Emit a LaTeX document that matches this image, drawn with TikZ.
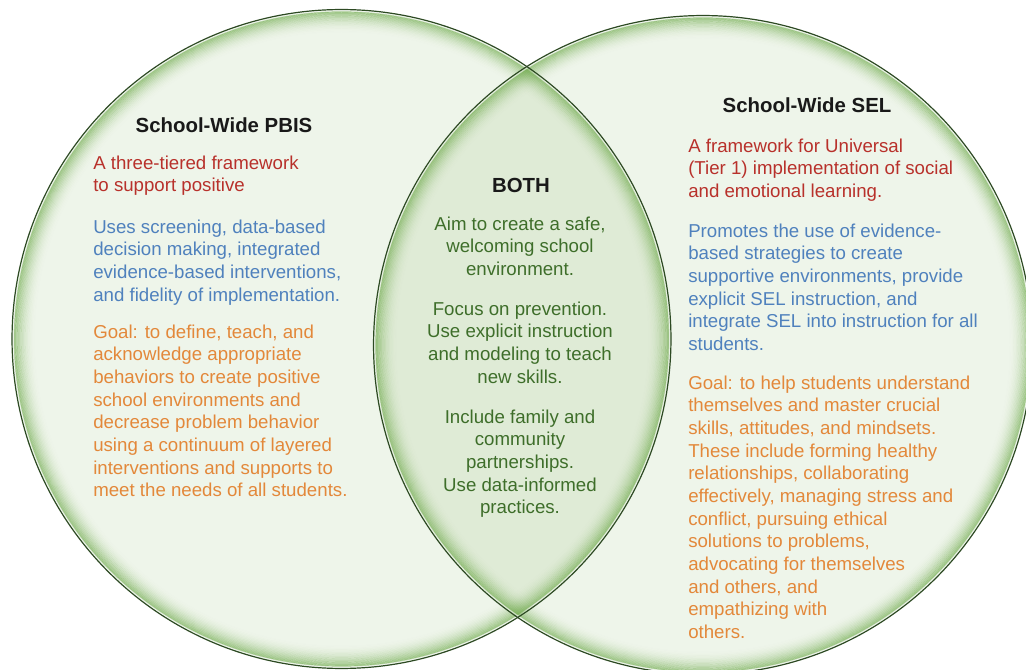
\documentclass[tikz,border=0pt]{standalone}
\usepackage{fontspec}
\setmainfont{Liberation Sans}
\definecolor{innerc}{HTML}{EEF5EA}
\definecolor{lensc}{HTML}{DFEBD6}
\definecolor{glowc}{HTML}{6FAA4C}
\definecolor{rimc}{HTML}{2D4A23}
\definecolor{tred}{HTML}{B8312B}
\definecolor{tblue}{HTML}{4F81BD}
\definecolor{torange}{HTML}{E3883A}
\definecolor{tgreen}{HTML}{3E6E2A}
\newcommand\firststrut{\rule{0pt}{12pt}}
\begin{document}
\begin{tikzpicture}[x=0.75pt,y=-0.75pt,
  body/.style={inner sep=0pt, font=\fontsize{14pt}{17pt}\selectfont},
  lblock/.style={body, anchor=north west, align=left},
  cblock/.style={body, anchor=north, align=center, text=tgreen},
  ttl/.style={inner sep=0pt, anchor=north, font=\fontsize{15.3pt}{18pt}\selectfont\bfseries, text=black!90},
  ]
\useasboundingbox (0,0) rectangle (1026,670);
\coordinate (L) at (341.5,339);
\coordinate (R) at (703,345);
\def\rad{247.1pt}
\fill[innerc] (L) circle[radius=\rad];
\fill[innerc] (R) circle[radius=\rad];
\begin{scope}
  \clip (L) circle[radius=\rad];
  \fill[lensc] (R) circle[radius=\rad];
\end{scope}
\foreach \c in {L,R}{
  \foreach \k [evaluate=\k as \op using {0.62*(1-\k/16)^2}, evaluate=\k as \rr using {245.4-\k*1.0}] in {0,...,15}{
    \draw[glowc, line width=1.05pt, draw opacity=\op] (\c) circle[radius=\rr pt];
  }
  \draw[white, line width=1.1pt, draw opacity=0.5] (\c) circle[radius=246.1pt];
}
\foreach \c in {L,R}{
  \draw[rimc, line width=0.9pt] (\c) circle[radius=\rad];
}
% left texts
\node[ttl] (titleL) at (224,116) {\firststrut School-Wide PBIS};
\node[lblock, text=tred] (redL) at (93,153) {\firststrut A three-tiered framework\\to support positive};
\node[lblock, text=tblue] (blueL) at (93,217) {\firststrut Uses screening, data-based\\decision making, integrated\\evidence-based interventions,\\and fidelity of implementation.};
\node[lblock, text=torange] (orangeL) at (93,322) {\firststrut Goal: to define, teach, and\\acknowledge appropriate\\behaviors to create positive\\school environments and\\decrease problem behavior\\using a continuum of layered\\interventions and supports to\\meet the needs of all students.};
% middle texts
\node[ttl] (both) at (521,176) {\firststrut BOTH};
\node[cblock] (mid1) at (520,214) {\firststrut Aim to create a safe,\\welcoming school\\environment.};
\node[cblock] (mid2) at (520,299) {\firststrut Focus on prevention.\\Use explicit instruction\\and modeling to teach\\new skills.};
\node[cblock] (mid3) at (520,407) {\firststrut Include family and\\community\\partnerships.\\Use data-informed\\practices.};
% right texts
\node[ttl] (titleR) at (807,96) {\firststrut School-Wide SEL};
\node[lblock, text=tred] (redR) at (688,136) {\firststrut A framework for Universal\\(Tier 1) implementation of social\\and emotional learning.};
\node[lblock, text=tblue] (blueR) at (688,221) {\firststrut Promotes the use of evidence-\\based strategies to create\\supportive environments, provide\\explicit SEL instruction, and\\integrate SEL into instruction for all\\students.};
\node[lblock, text=torange] (orangeR) at (688,373) {\firststrut Goal: to help students understand\\themselves and master crucial\\skills, attitudes, and mindsets.\\These include forming healthy\\relationships, collaborating\\effectively, managing stress and\\conflict, pursuing ethical\\solutions to problems,\\advocating for themselves\\and others, and\\empathizing with\\others.};
\end{tikzpicture}
\end{document}
